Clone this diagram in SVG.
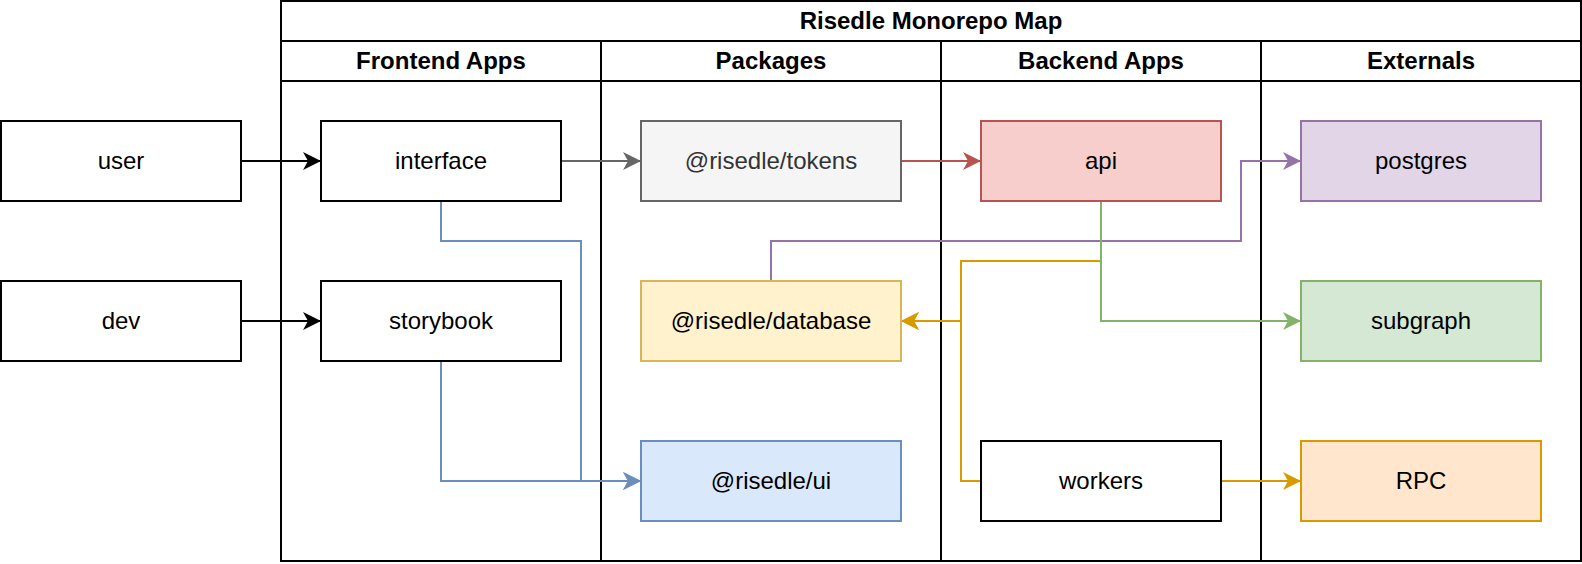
<svg xmlns="http://www.w3.org/2000/svg" width="1582" height="564" viewBox="0 0 1582 564">
<style>
text{font-family:"Liberation Sans",Arial,Helvetica,sans-serif;font-size:24px;text-anchor:middle;fill:#000}
.b{font-weight:bold}
.frame{fill:none;stroke:#000;stroke-width:2}
.node rect{stroke-width:2}
.e{fill:none;stroke-width:2}
</style>
<defs>
<marker id="aK" markerUnits="userSpaceOnUse" viewBox="-20 -10 20 20" refX="0" refY="0" markerWidth="20" markerHeight="20" orient="auto"><path d="M0,0 L-18,-9 L-13,0 L-18,9 Z" fill="#000"/></marker>
<marker id="aG" markerUnits="userSpaceOnUse" viewBox="-20 -10 20 20" refX="0" refY="0" markerWidth="20" markerHeight="20" orient="auto"><path d="M0,0 L-18,-9 L-13,0 L-18,9 Z" fill="#666666"/></marker>
<marker id="aR" markerUnits="userSpaceOnUse" viewBox="-20 -10 20 20" refX="0" refY="0" markerWidth="20" markerHeight="20" orient="auto"><path d="M0,0 L-18,-9 L-13,0 L-18,9 Z" fill="#b85450"/></marker>
<marker id="aP" markerUnits="userSpaceOnUse" viewBox="-20 -10 20 20" refX="0" refY="0" markerWidth="20" markerHeight="20" orient="auto"><path d="M0,0 L-18,-9 L-13,0 L-18,9 Z" fill="#9673a6"/></marker>
<marker id="aGr" markerUnits="userSpaceOnUse" viewBox="-20 -10 20 20" refX="0" refY="0" markerWidth="20" markerHeight="20" orient="auto"><path d="M0,0 L-18,-9 L-13,0 L-18,9 Z" fill="#82b366"/></marker>
<marker id="aO" markerUnits="userSpaceOnUse" viewBox="-20 -10 20 20" refX="0" refY="0" markerWidth="20" markerHeight="20" orient="auto"><path d="M0,0 L-18,-9 L-13,0 L-18,9 Z" fill="#d79b00"/></marker>
<marker id="aB" markerUnits="userSpaceOnUse" viewBox="-20 -10 20 20" refX="0" refY="0" markerWidth="20" markerHeight="20" orient="auto"><path d="M0,0 L-18,-9 L-13,0 L-18,9 Z" fill="#6c8ebf"/></marker>
</defs>
<rect width="1582" height="564" fill="#fff"/>
<g id="pool">
<rect class="frame" x="281" y="1" width="1300" height="560"/>
<line class="frame" x1="281" y1="41" x2="1581" y2="41"/>
<line class="frame" x1="281" y1="81" x2="1581" y2="81"/>
<line class="frame" x1="601" y1="41" x2="601" y2="561"/>
<line class="frame" x1="941" y1="41" x2="941" y2="561"/>
<line class="frame" x1="1261" y1="41" x2="1261" y2="561"/>
<text class="b" x="931" y="29">Risedle Monorepo Map</text>
<text class="b" x="441" y="69">Frontend Apps</text>
<text class="b" x="771" y="69">Packages</text>
<text class="b" x="1101" y="69">Backend Apps</text>
<text class="b" x="1421" y="69">Externals</text>
</g>
<g id="connectors">
<path class="e" stroke="#000" d="M241,161 H321" marker-end="url(#aK)"/>
<path class="e" stroke="#000" d="M241,321 H321" marker-end="url(#aK)"/>
<path class="e" stroke="#666666" d="M561,161 H641" marker-end="url(#aG)"/>
<path class="e" stroke="#b85450" d="M901,161 H981" marker-end="url(#aR)"/>
<path class="e" stroke="#6c8ebf" d="M441,201 V241 H581 V481 H641" marker-end="url(#aB)"/>
<path class="e" stroke="#6c8ebf" d="M441,361 V481 H641" marker-end="url(#aB)"/>
<path class="e" stroke="#9673a6" d="M771,281 V241 H1241 V161 H1301" marker-end="url(#aP)"/>
<path class="e" stroke="#d79b00" d="M1101,201 V261 H961 V321 H901" marker-end="url(#aO)"/>
<path class="e" stroke="#d79b00" d="M981,481 H961 V321 H901" marker-end="url(#aO)"/>
<path class="e" stroke="#d79b00" d="M1221,481 H1301" marker-end="url(#aO)"/>
<path class="e" stroke="#82b366" d="M1101,201 V321 H1301" marker-end="url(#aGr)"/>
</g>
<g id="user" class="node"><rect x="1" y="121" width="240" height="80" fill="#fff" stroke="#000"/><text x="121" y="169">user</text></g>
<g id="dev" class="node"><rect x="1" y="281" width="240" height="80" fill="#fff" stroke="#000"/><text x="121" y="329">dev</text></g>
<g id="interface" class="node"><rect x="321" y="121" width="240" height="80" fill="#fff" stroke="#000"/><text x="441" y="169">interface</text></g>
<g id="storybook" class="node"><rect x="321" y="281" width="240" height="80" fill="#fff" stroke="#000"/><text x="441" y="329">storybook</text></g>
<g id="tokens" class="node"><rect x="641" y="121" width="260" height="80" fill="#f5f5f5" stroke="#666666"/><text x="771" y="169" style="fill:#333333">@risedle/tokens</text></g>
<g id="database" class="node"><rect x="641" y="281" width="260" height="80" fill="#fff2cc" stroke="#d6b656"/><text x="771" y="329">@risedle/database</text></g>
<g id="ui" class="node"><rect x="641" y="441" width="260" height="80" fill="#dae8fc" stroke="#6c8ebf"/><text x="771" y="489">@risedle/ui</text></g>
<g id="api" class="node"><rect x="981" y="121" width="240" height="80" fill="#f8cecc" stroke="#b85450"/><text x="1101" y="169">api</text></g>
<g id="workers" class="node"><rect x="981" y="441" width="240" height="80" fill="#fff" stroke="#000"/><text x="1101" y="489">workers</text></g>
<g id="postgres" class="node"><rect x="1301" y="121" width="240" height="80" fill="#e1d5e7" stroke="#9673a6"/><text x="1421" y="169">postgres</text></g>
<g id="subgraph" class="node"><rect x="1301" y="281" width="240" height="80" fill="#d5e8d4" stroke="#82b366"/><text x="1421" y="329">subgraph</text></g>
<g id="rpc" class="node"><rect x="1301" y="441" width="240" height="80" fill="#ffe6cc" stroke="#d79b00"/><text x="1421" y="489">RPC</text></g>
</svg>
